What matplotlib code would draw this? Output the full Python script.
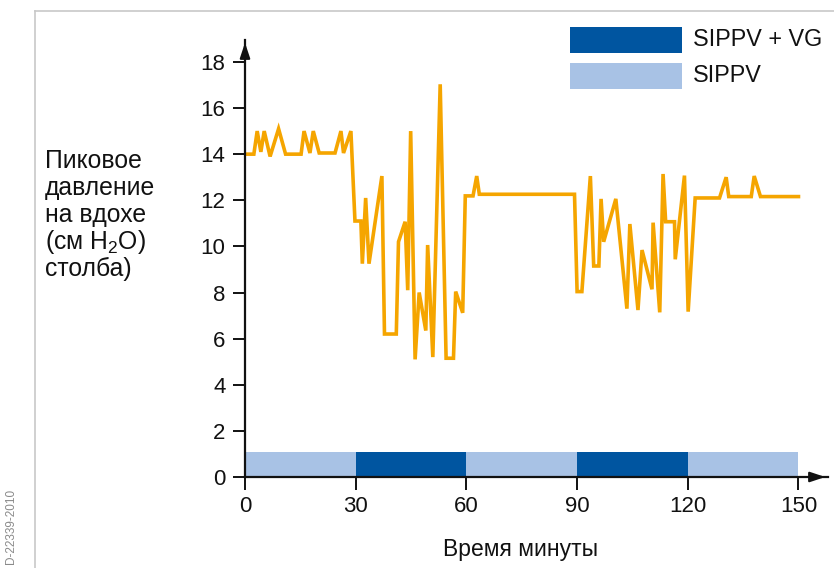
import matplotlib
matplotlib.use("Agg")
import matplotlib.pyplot as plt
from matplotlib.patches import Rectangle
from matplotlib.lines import Line2D

plt.rcParams['font.family'] = ['Liberation Sans', 'DejaVu Sans']
plt.rcParams['mathtext.fontset'] = 'custom'
plt.rcParams['mathtext.rm'] = 'Liberation Sans'

# ---- data ----
time_min = [0, 2.4, 3.3, 4.3, 5.2, 6.8, 9.1, 11.0, 15.2, 16.0, 17.6, 18.5, 20.1, 24.4,
            26.0, 26.7, 28.7, 29.8, 31.4, 31.8, 32.7, 33.6, 37.1, 37.8, 41.0, 41.6,
            43.4, 44.1, 44.9, 46.1, 47.2, 49.0, 49.5, 50.9, 52.9, 54.5, 56.5, 57.1,
            59.0, 59.7, 61.8, 62.8, 63.5, 89.3, 90.0, 91.3, 93.6, 94.5, 95.9, 96.5,
            97.2, 100.5, 103.5, 104.3, 106.5, 107.6, 110.3, 110.6, 112.4, 113.3,
            114.0, 116.4, 116.6, 119.1, 120.1, 122.0, 128.6, 130.4, 131.1, 137.2,
            138.0, 139.7, 150]
pressure = [14.0, 14.0, 15.0, 14.1, 15.0, 13.9, 15.1, 14.0, 14.0, 15.0, 14.05, 15.0,
            14.05, 14.05, 15.0, 14.05, 15.0, 11.1, 11.1, 9.25, 12.1, 9.25, 13.05, 6.2,
            6.2, 10.2, 11.07, 8.1, 15.0, 5.1, 8.0, 6.35, 10.06, 5.2, 17.03, 5.15, 5.15,
            8.04, 7.12, 12.19, 12.19, 13.05, 12.26, 12.26, 8.04, 8.04, 13.05, 9.15,
            9.15, 12.06, 10.2, 12.06, 7.3, 10.97, 7.24, 9.84, 8.14, 11.03, 7.14, 13.14,
            11.07, 11.07, 9.44, 13.07, 7.17, 12.1, 12.1, 13.0, 12.16, 12.16, 13.05,
            12.16, 12.16]

mode_start = [0, 30, 60, 90, 120]
mode_end = [30, 60, 90, 120, 150]
mode_name = ['SIPPV', 'SIPPV + VG', 'SIPPV', 'SIPPV + VG', 'SIPPV']
mode_colors = {'SIPPV + VG': '#0055a0', 'SIPPV': '#a8c2e5'}
band_height = 1.1

xticks = [0, 30, 60, 90, 120, 150]
yticks = [0, 2, 4, 6, 8, 10, 12, 14, 16, 18]
ylabel_lines = ['Пиковое', 'давление', 'на вдохе',
                '(см H$\\mathregular{_2}$O)', 'столба)']

W, H = 834, 568
fig = plt.figure(figsize=(W / 100, H / 100), dpi=100)

x0, x1 = 245, 828
y0, y1 = 477, 40
ax = fig.add_axes([x0 / W, 1 - y0 / H, (x1 - x0) / W, (y0 - y1) / H])
ax.set_xlim(0, 158)
ax.set_ylim(0, 18.95)

for s, e, n in zip(mode_start, mode_end, mode_name):
    ax.add_patch(Rectangle((s, 0), e - s, band_height, facecolor=mode_colors[n],
                           edgecolor='none', zorder=1))

ax.plot(time_min, pressure, color='#f5a500', lw=2.6, zorder=3,
        solid_joinstyle='miter')

for sp in ['top', 'right']:
    ax.spines[sp].set_visible(False)
for sp in ['left', 'bottom']:
    ax.spines[sp].set_linewidth(1.6)
    ax.spines[sp].set_color('#111111')
    ax.spines[sp].set_zorder(4)

ax.set_xticks(xticks)
ax.set_yticks(yticks)
ax.tick_params(axis='both', direction='out', length=9, width=1.4, labelsize=16,
               color='#111111', labelcolor='#111111', pad=5)

# arrowheads
ax.annotate('', xy=(0, 1.0), xytext=(0, 0.96), xycoords='axes fraction',
            arrowprops=dict(arrowstyle='-|>,head_length=0.9,head_width=0.3',
                            color='#111111', lw=1.6), annotation_clip=False)
ax.annotate('', xy=(1.0, 0), xytext=(0.97, 0), xycoords='axes fraction',
            arrowprops=dict(arrowstyle='-|>,head_length=0.9,head_width=0.3',
                            color='#111111', lw=1.6), annotation_clip=False)

ax.set_xlabel('Время минуты', fontsize=16.5, color='#111111')
ax.xaxis.set_label_coords((521 - x0) / (x1 - x0), -(538 - y0) / (y0 - y1))

for i, line in enumerate(ylabel_lines):
    fig.text(45 / W, 1 - (168 + 27 * i) / H, line, fontsize=17.8, ha='left',
             va='baseline', color='#111111')

# legend
for (top, n) in [(27, 'SIPPV + VG'), (63, 'SIPPV')]:
    fig.patches.append(Rectangle((570 / W, 1 - (top + 26) / H), 112 / W, 26 / H,
                                 transform=fig.transFigure, facecolor=mode_colors[n],
                                 edgecolor='none'))
    fig.text(693 / W, 1 - (top + 13) / H, n, fontsize=16.8, ha='left', va='center',
             color='#111111')

# frame lines
fig.add_artist(Line2D([35 / W, 1], [1 - 11 / H, 1 - 11 / H], color='#c8c8c8', lw=1.2,
                      transform=fig.transFigure))
fig.add_artist(Line2D([35 / W, 35 / W], [0, 1 - 11 / H], color='#c8c8c8', lw=1.2,
                      transform=fig.transFigure))

fig.text(11 / W, 1 - 489 / H, 'D-22339-2010', rotation=90, fontsize=8.5,
         color='#8a8a8a', ha='center', va='top')

fig.savefig('out.png', dpi=100)
